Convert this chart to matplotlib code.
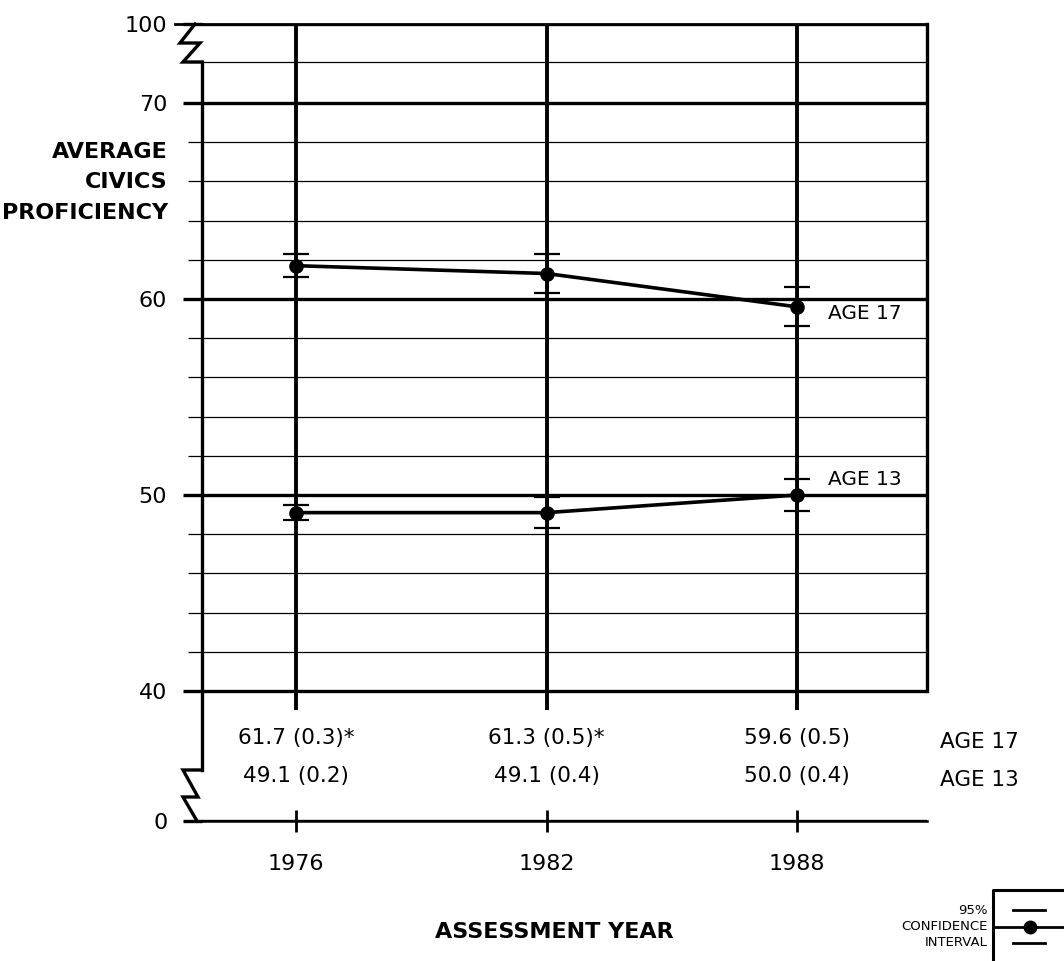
import matplotlib
matplotlib.use('Agg')
import matplotlib.pyplot as plt
from matplotlib.lines import Line2D
from matplotlib.transforms import blended_transform_factory

# ---------------- data ----------------
years = [1976, 1982, 1988]
xtick_labels = ['1976', '1982', '1988']
age17 = [61.7, 61.3, 59.6]
age17_se = [0.3, 0.5, 0.5]
age17_flag = ['*', '*', '']
age13 = [49.1, 49.1, 50.0]
age13_se = [0.2, 0.4, 0.4]
age13_flag = ['', '', '']
series_names = ['AGE 17', 'AGE 13']
ytick_values = [0, 40, 50, 60, 70, 100]
ytick_labels = ['0', '40', '50', '60', '70', '100']
minor_values = [42, 44, 46, 48, 52, 54, 56, 58, 62, 64, 66, 68]

# ---------------- broken-axis geometry ----------------
W, H = 1064, 961
AX_L, AX_R, AX_T, AX_B = 202, 927, 24, 821   # pixel frame
PX_PER_UNIT = 19.6
Y_TOP = 70 + (103 - AX_T) / PX_PER_UNIT       # position where 100 is drawn
Y_BOTTOM = 40 - (AX_B - 691) / PX_PER_UNIT    # position where 0 is drawn


def ypos(v):
    if v < 40:
        return Y_BOTTOM + v * (40 - Y_BOTTOM) / 40
    if v >= 99:
        return Y_TOP
    return v


def py2y(py):
    return 70 + (103 - py) / PX_PER_UNIT


PX_PER_YEAR = (797 - 296) / 12
X_MIN = 1976 - (296 - AX_L) / PX_PER_YEAR
X_MAX = 1988 + (AX_R - 797) / PX_PER_YEAR

K = 'black'
plt.rcParams['font.family'] = ['DejaVu Sans']

fig = plt.figure(figsize=(W / 100, H / 100), dpi=100)
ax = fig.add_axes([AX_L / W, 1 - AX_B / H, (AX_R - AX_L) / W, (AX_B - AX_T) / H])
ax.set_xlim(X_MIN, X_MAX)
ax.set_ylim(Y_BOTTOM, Y_TOP)

# spines
for s in ax.spines.values():
    s.set_color(K)
ax.spines['left'].set_linewidth(2.4)
ax.spines['left'].set_bounds(py2y(770), py2y(62))
ax.spines['right'].set_linewidth(2.4)
ax.spines['right'].set_bounds(40, Y_TOP)
ax.spines['top'].set_linewidth(2.0)
ax.spines['bottom'].set_linewidth(1.8)

# y ticks & grid
ax.set_yticks([ypos(v) for v in ytick_values], labels=ytick_labels)
ax.set_yticks(minor_values + [py2y(62)], minor=True)
ax.tick_params(axis='y', which='major', direction='out', length=14, width=2.4,
               pad=11, labelsize=16, colors=K)
ax.tick_params(axis='y', which='minor', direction='out', length=10, width=0.9)
ax.yaxis.grid(True, which='major', color=K, lw=2.4)
ax.yaxis.grid(True, which='minor', color=K, lw=0.9)

# x ticks
ax.set_xticks(years, labels=xtick_labels)
ax.tick_params(axis='x', direction='inout', length=16, width=2.0, pad=16,
               labelsize=16, colors=K)

# vertical year lines
ax.vlines(years, 40 - 19 / PX_PER_UNIT, Y_TOP, colors=K, lw=2.8, zorder=2)

# broken-axis zigzags (pixel offsets from the spine)
tr = blended_transform_factory(ax.transAxes, ax.transData)
axw = AX_R - AX_L


def zig(pts):
    xs = [(px - AX_L) / axw for px, _ in pts]
    ys = [py2y(py) for _, py in pts]
    ax.add_line(Line2D(xs, ys, transform=tr, color=K, lw=2.4, clip_on=False,
                       solid_joinstyle='miter'))


zig([(202, 62), (183, 62), (200, 43), (180, 43), (195, AX_T)])
zig([(202, 770), (183, 770), (198, 797), (183, 797), (197, AX_B)])
# top line extends left a bit further
ax.add_line(Line2D([(175 - AX_L) / axw, 0], [Y_TOP, Y_TOP], transform=tr,
                   color=K, lw=2.0, clip_on=False))

# series with 95% confidence intervals (±2 SE)
for vals, se in [(age17, age17_se), (age13, age13_se)]:
    ax.errorbar(years, vals, yerr=[2 * s for s in se], fmt='-o', color=K,
                lw=2.6, ms=9.5, elinewidth=2.0, capsize=9.5, capthick=1.6,
                zorder=4, clip_on=False)

ax.annotate(series_names[0], xy=(years[-1], age17[-1]), xytext=(22, -5),
            textcoords='offset points', ha='left', va='center', fontsize=14.5)
ax.annotate(series_names[1], xy=(years[-1], age13[-1]), xytext=(22, 11),
            textcoords='offset points', ha='left', va='center', fontsize=14.5)

# table of values below the break
row17_y = py2y(738)
row13_y = py2y(776)
for x, v, s, f in zip(years, age17, age17_se, age17_flag):
    ax.text(x, row17_y, f'{v:.1f} ({s:.1f}){f}', ha='center', va='center',
            fontsize=15.5)
for x, v, s, f in zip(years, age13, age13_se, age13_flag):
    ax.text(x, row13_y, f'{v:.1f} ({s:.1f}){f}', ha='center', va='center',
            fontsize=15.5)
ax.text((940 - AX_L) / axw, py2y(742), series_names[0], transform=tr,
        ha='left', va='center', fontsize=15.5)
ax.text((940 - AX_L) / axw, py2y(780), series_names[1], transform=tr,
        ha='left', va='center', fontsize=15.5)

# axis titles
for txt, py in [('AVERAGE', 152), ('CIVICS', 182), ('PROFICIENCY', 213)]:
    fig.text(168 / W, 1 - py / H, txt, ha='right', va='center',
             fontsize=16, fontweight='bold')
fig.text(554 / W, 1 - 932 / H, 'ASSESSMENT YEAR', ha='center', va='center',
         fontsize=16, fontweight='bold')

# legend key (95% confidence interval)
def fl(xs, ys, lw):
    fig.add_artist(Line2D([x / W for x in xs], [1 - y / H for y in ys],
                          transform=fig.transFigure, color=K, lw=lw))

fl([993, 993, W], [H, 890, 890], 2.2)
fl([1013, 1045], [910, 910], 2.0)
fl([993, W], [927, 927], 2.0)
fl([1013, 1045], [943, 943], 2.0)
fig.add_artist(Line2D([1030 / W], [1 - 927 / H], transform=fig.transFigure,
                      marker='o', ms=9, color=K))
for txt, py in [('95%', 910), ('CONFIDENCE', 927), ('INTERVAL', 943)]:
    fig.text(988 / W, 1 - py / H, txt, ha='right', va='center', fontsize=9.5)

fig.savefig('out.png', dpi=100)
